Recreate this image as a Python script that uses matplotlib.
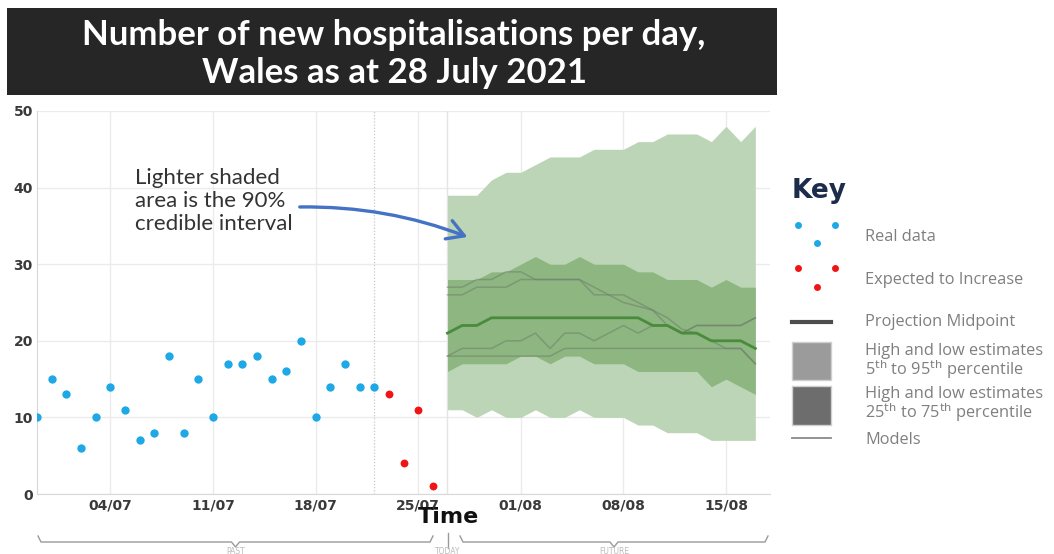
import numpy as np
import matplotlib
matplotlib.use("Agg")
import matplotlib.pyplot as plt
import matplotlib.dates as mdates
from matplotlib.patches import Rectangle, FancyArrowPatch
from matplotlib.lines import Line2D

# ---------------- data ----------------
real_start = "2021-06-29"
real_values = [10, 15, 13, 6, 10, 14, 11, 7, 8, 18, 8, 15, 10, 17, 17, 18,
               15, 16, 20, 10, 14, 17, 14, 14]
expected_start = "2021-07-23"
expected_values = [13, 4, 11, 1]

proj_start = "2021-07-27"
p5 = [11, 11, 10, 11, 10, 10, 11, 10, 10, 11, 10, 10, 10, 9, 9, 8, 8, 8, 7, 7, 7, 7]
p95 = [39, 39, 39, 41, 42, 42, 43, 44, 44, 44, 45, 45, 45, 46, 46, 47, 47, 47, 46, 48, 46, 48]
p25 = [16, 17, 17, 17, 17, 18, 18, 17, 18, 18, 17, 17, 17, 16, 16, 16, 16, 16, 14, 15, 14, 13]
p75 = [28, 28, 28, 29, 29, 30, 31, 30, 30, 31, 30, 30, 30, 29, 29, 28, 28, 28, 27, 28, 27, 27]
midpoint = [21, 22, 22, 23, 23, 23, 23, 23, 23, 23, 23, 23, 23, 23, 22, 22, 21, 21, 20, 20, 20, 19]
model_a = [27, 27, 28, 28, 29, 29, 28, 28, 28, 28, 27, 26, 25, 24.5, 24, 23, 21.5, 21, 20, 19, 19, 17]
model_b = [26, 26, 27, 27, 27, 28, 28, 28, 28, 28, 26, 26, 26, 25, 24, 22, 21, 22, 22, 22, 22, 23]
model_c = [18, 19, 19, 19, 20, 20, 21, 19, 21, 21, 20, 21, 22, 21, 22, 22, 21, 22, 22, 22, 22, 23]
model_d = [18, 18, 18, 18, 18, 18, 18, 18, 19, 19, 19, 19, 19, 19, 19, 19, 19, 19, 19, 19, 19, 17]

tick_dates = ["2021-07-04", "2021-07-11", "2021-07-18", "2021-07-25",
              "2021-08-01", "2021-08-08", "2021-08-15"]
yticks = [0, 10, 20, 30, 40, 50]

title_lines = "Number of new hospitalisations per day,\nWales as at 28 July 2021"
key_labels = ["Real data", "Expected to Increase", "Projection Midpoint",
              "High and low estimates\n5$^{\\mathrm{th}}$ to 95$^{\\mathrm{th}}$ percentile",
              "High and low estimates\n25$^{\\mathrm{th}}$ to 75$^{\\mathrm{th}}$ percentile",
              "Models"]

# ---------------- figure ----------------
W, H = 1054, 554
fig = plt.figure(figsize=(W / 100, H / 100), dpi=100)
fig.patch.set_facecolor("white")

def fx(px):
    return px / W

def fy(py):
    return 1 - py / H

ax = fig.add_axes([fx(37), fy(494), fx(770) - fx(37), fy(111) - fy(494)])

def days(start, n):
    a = np.arange(np.datetime64(start), np.datetime64(start) + n)
    return a.astype("datetime64[D]").astype(object)

real_x = days(real_start, len(real_values))
exp_x = days(expected_start, len(expected_values))
proj_x = days(proj_start, len(midpoint))

light = "#bcd5b6"
dark = "#8db681"
ax.fill_between(proj_x, p5, p95, color=light, lw=0, zorder=2)
ax.fill_between(proj_x, p25, p75, color=dark, lw=0, zorder=3)
for m in (model_a, model_b, model_c, model_d):
    ax.plot(proj_x, m, color="#6f7f6b", lw=1.1, alpha=0.55, zorder=4)
ax.plot(proj_x, midpoint, color="#4a8b3d", lw=2.0, zorder=5)

ax.scatter(real_x, real_values, s=36, color="#1ea8e6", zorder=6, lw=0)
ax.scatter(exp_x, expected_values, s=32, color="#f01414", zorder=6, lw=0)

ax.set_xlim(np.datetime64("2021-06-29").astype(object), np.datetime64("2021-08-18").astype(object))
ax.set_ylim(0, 50)
ax.set_xticks([np.datetime64(d).astype(object) for d in tick_dates])
ax.xaxis.set_major_formatter(mdates.DateFormatter("%d/%m"))
ax.set_yticks(yticks)
ax.grid(True, color="#ebebeb", lw=1.0, zorder=0)
ax.set_axisbelow(True)
for s in ("top", "right"):
    ax.spines[s].set_visible(False)
ax.spines["left"].set_color("#d8d8d8")
ax.spines["bottom"].set_color("#d8d8d8")
ax.tick_params(length=0, labelsize=10, labelcolor="#3a3a3a")
for lab in ax.get_xticklabels() + ax.get_yticklabels():
    lab.set_fontweight("bold")
ax.tick_params(axis="y", pad=3)
ax.tick_params(axis="x", pad=3)

# dotted line (last observed) and today line
ax.axvline(np.datetime64("2021-07-22").astype(object), color="#c8c8c8", lw=0.9, ls=(0, (1, 1.5)), zorder=1)
ax.axvline(np.datetime64("2021-07-27").astype(object), color="#e4e4e4", lw=1.0, zorder=1)

# title box
fig.patches.append(Rectangle((fx(7), fy(95)), fx(777) - fx(7), fy(8) - fy(95),
                             transform=fig.transFigure, facecolor="#262626", edgecolor="none"))
fig.text(fx(394), fy(54), title_lines, color="white", fontsize=25, fontweight="bold",
         family="Lato", ha="center", va="center", linespacing=1.2)

# annotation
fig.text(fx(135), fy(201), "Lighter shaded\narea is the 90%\ncredible interval", fontsize=16,
         family="Lato", color="#333333", ha="left", va="center", linespacing=1.2)
arr = FancyArrowPatch((fx(297), fy(207)), (fx(470), fy(238)), transform=fig.transFigure,
                      connectionstyle="arc3,rad=-0.1", arrowstyle="->,head_length=12,head_width=7",
                      color="#4472c4", lw=2.4, mutation_scale=1)
fig.patches.append(arr)

# Time label
fig.text(fx(449), fy(517), "Time", fontsize=16, fontweight="bold", color="#111111",
         ha="center", va="center")

# braces
bc = "#9a9a9a"
def brace(x0, x1, y):
    xm = (x0 + x1) / 2
    pts_x = [x0, x0 + 3, xm - 4, xm, xm + 4, x1 - 3, x1]
    pts_y = [y - 6, y, y, y + 5, y, y, y - 6]
    fig.add_artist(Line2D([fx(p) for p in pts_x], [fy(p) for p in pts_y], color=bc, lw=1.0,
                          transform=fig.transFigure))
brace(38, 433, 542)
brace(460, 768, 542)
fig.add_artist(Line2D([fx(448), fx(448)], [fy(533), fy(548)], color=bc, lw=1.0, transform=fig.transFigure))
fig.text(fx(236), fy(551), "PAST", fontsize=5.5, color="#bbbbbb", ha="center", va="center")
fig.text(fx(448), fy(551), "TODAY", fontsize=5.5, color="#bbbbbb", ha="center", va="center")
fig.text(fx(614), fy(551), "FUTURE", fontsize=5.5, color="#bbbbbb", ha="center", va="center")

# key
fig.text(fx(792), fy(191), "Key", fontsize=19, fontweight="bold", color="#1c2d4c",
         ha="left", va="center")
kc = "#7f7f7f"
tx = fx(865)
for cx, cy in [(798, 225), (835, 225), (817, 243)]:
    fig.add_artist(Line2D([fx(cx)], [fy(cy)], marker="o", ms=5, color="#1ea8e6", mew=0,
                          transform=fig.transFigure))
for cx, cy in [(798, 268), (835, 268), (817, 287)]:
    fig.add_artist(Line2D([fx(cx)], [fy(cy)], marker="o", ms=5, color="#f01414", mew=0,
                          transform=fig.transFigure))
fig.add_artist(Line2D([fx(792), fx(831)], [fy(322), fy(322)], color="#4d4d4d", lw=3,
                      transform=fig.transFigure))
fig.patches.append(Rectangle((fx(792), fy(380)), fx(831) - fx(792), fy(342) - fy(380),
                             transform=fig.transFigure, facecolor="#9b9b9b", edgecolor="#cfcfcf", lw=1))
fig.patches.append(Rectangle((fx(792), fy(425)), fx(831) - fx(792), fy(386) - fy(425),
                             transform=fig.transFigure, facecolor="#6d6d6d", edgecolor="#cfcfcf", lw=1))
fig.add_artist(Line2D([fx(792), fx(831)], [fy(438), fy(438)], color="#8a8a8a", lw=1.3,
                      transform=fig.transFigure))
key_y = [237, 280, 322, 362, 405, 440]
for lab, ky in zip(key_labels, key_y):
    fig.text(tx, fy(ky), lab, fontsize=11.8, color=kc, ha="left", va="center",
             family="Open Sans", linespacing=0.9)

fig.savefig("out.png", dpi=100)
